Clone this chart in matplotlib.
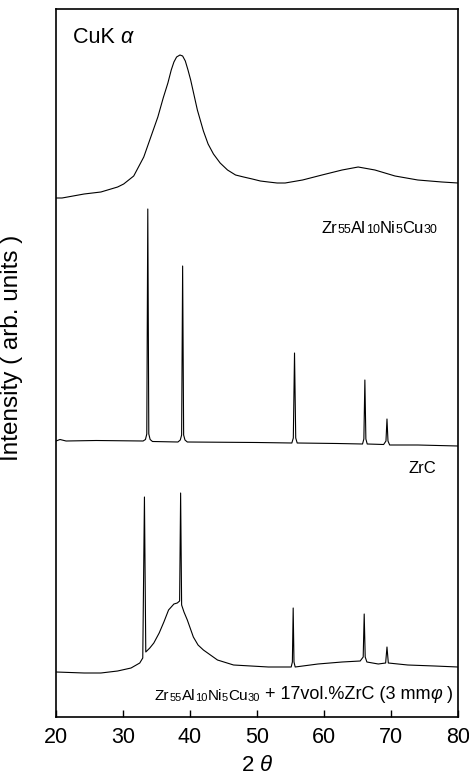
"""XRD patterns (CuKa): amorphous Zr55Al10Ni5Cu30, ZrC, and the 17vol.% ZrC composite.

Curves are stacked with fixed offsets; intensity is in arbitrary units.
"""

import matplotlib.pyplot as plt

plt.rcParams["font.family"] = ["Liberation Sans", "DejaVu Sans"]
plt.rcParams["mathtext.fontset"] = "custom"
plt.rcParams["mathtext.rm"] = "Liberation Sans"
plt.rcParams["mathtext.it"] = "Liberation Sans:italic"

# Amorphous Zr55Al10Ni5Cu30 (top pattern, offset included)
glass_2theta = [20.0, 20.9, 24.2, 26.7, 29.2, 30.1, 31.6, 33.1, 35.2, 36.0, 36.7,
                37.2, 37.6, 38.0, 38.5, 38.9, 39.3, 39.7, 40.1, 40.6, 41.1, 42.0,
                42.7, 43.5, 44.5, 45.6, 46.8, 48.0, 49.3, 50.5, 51.7, 53.0, 54.2,
                56.8, 59.7, 62.7, 65.1, 67.6, 70.6, 74.0, 77.6, 80.0]
glass_int = [519, 519, 523, 525, 530, 533, 541, 560, 600, 619, 634,
             647, 655, 660, 662, 661, 656, 647, 637, 622, 607, 586,
             573, 563, 554, 547, 542, 540, 538, 536, 535, 534, 534,
             537, 542, 547, 550, 547, 541, 537, 535, 534]

# ZrC (middle pattern)
zrc_2theta = [20.0, 20.6, 21.5, 26.0, 33.0, 33.35, 33.55, 33.7, 33.85, 34.05, 34.4,
              38.2, 38.55, 38.75, 38.9, 39.05, 39.25, 39.6, 50.0, 55.2, 55.42,
              55.6, 55.78, 56.0, 62.0, 65.75, 65.95, 66.1, 66.25, 66.45, 68.9,
              69.25, 69.4, 69.55, 69.8, 74.0, 80.0]
zrc_int = [276, 277.5, 276, 276.5, 276, 277.5, 283, 508, 283, 277.5, 275.5,
           275, 277, 282, 451, 282, 277, 275, 274.5, 274, 279,
           364, 279, 274, 273.5, 273, 278, 337, 278, 273, 272.5,
           276, 298, 276, 272, 272, 271]

# Zr55Al10Ni5Cu30 + 17vol.%ZrC, 3 mm rod (bottom pattern)
comp_2theta = [20.0, 24.2, 26.7, 29.2, 31.2, 32.5, 32.95, 33.2, 33.4, 34.0, 34.6,
               35.4, 36.1, 36.8, 37.6, 38.1, 38.45, 38.6, 38.75, 39.1, 39.6,
               40.5, 41.2, 42.0, 44.1, 46.5, 51.7, 55.1, 55.28, 55.4, 55.52,
               55.7, 59.1, 62.7, 65.4, 65.85, 66.0, 66.15, 66.4, 68.1, 69.2,
               69.4, 69.6, 72.5, 76.5, 80.0]
comp_int = [45, 44, 44, 46, 49, 54, 59, 220, 65, 69, 74,
            84, 95, 107, 113, 114, 116, 224, 112, 105, 97,
            80, 72, 67, 57, 52, 50, 50, 55, 109, 55,
            50, 53, 55, 56, 60, 103, 60, 55, 53, 54,
            70, 54, 52, 51, 50]

x_ticks = [20, 30, 40, 50, 60, 70, 80]

# label pieces: (text, kind) with kind "n" normal, "s" small digits, "i" italic
alloy_parts = [("Zr", "n"), ("55", "s"), ("Al", "n"), ("10", "s"),
               ("Ni", "n"), ("5", "s"), ("Cu", "n"), ("30", "s")]
composite_tail = [(" + 17vol.%ZrC (3 mm", "n"), ("φ", "i"), (" )", "n")]


def chain_text(ax, start, parts, big, small):
    """Write pieces one after another on one baseline (digits set smaller)."""
    t = start
    for text, kind in parts:
        kw = dict(va="bottom", ha="left",
                  fontsize=small if kind == "s" else big,
                  style="italic" if kind == "i" else "normal")
        if isinstance(t, tuple):
            t = ax.text(t[0], t[1], text, transform=ax.transAxes, **kw)
        else:
            t = ax.annotate(text, xy=(1, 0), xycoords=t, **kw)
    return t


fig = plt.figure(figsize=(4.69, 7.80), dpi=100)
ax = fig.add_axes([56 / 469, 1 - 717 / 780, 402 / 469, 708 / 780])

for xs, ys in [(glass_2theta, glass_int), (zrc_2theta, zrc_int), (comp_2theta, comp_int)]:
    ax.plot(xs, ys, color="black", linewidth=0.8)

ax.set_xlim(20, 80)
ax.set_ylim(0, 708)
ax.set_xticks(x_ticks)
ax.set_yticks([])
ax.tick_params(axis="x", direction="in", length=5, width=1, labelsize=15.5, pad=7)
for s in ax.spines.values():
    s.set_linewidth(1.2)

ax.set_xlabel(r"2 $\theta$", fontsize=16, labelpad=5)
ax.set_ylabel("Intensity ( arb. units )", fontsize=17.5)
ax.yaxis.set_label_coords(-0.082, 0.522)

chain_text(ax, (0.042, 0.945), [("CuK ", "n"), ("α", "i")], big=15.5, small=15.5)
chain_text(ax, (0.66, 0.679), alloy_parts, big=12, small=9)
ax.text(0.945, 0.341, "ZrC", transform=ax.transAxes, fontsize=12, ha="right", va="bottom")
t = chain_text(ax, (0.246, 0.020), alloy_parts, big=11, small=8)
chain_text(ax, t, composite_tail, big=13, small=13)

fig.savefig("out.png", dpi=100)
